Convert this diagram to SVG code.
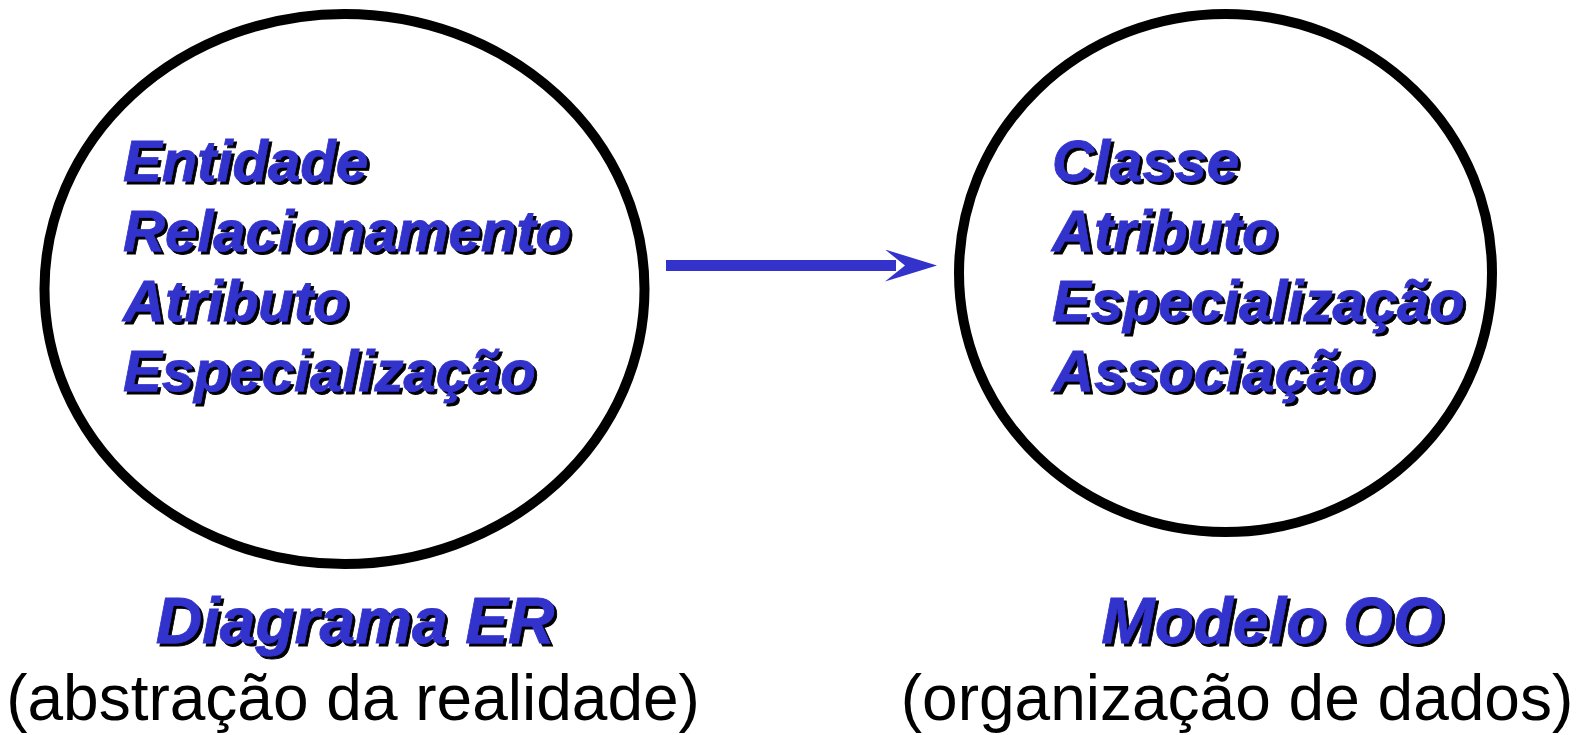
<svg xmlns="http://www.w3.org/2000/svg" width="1576" height="735" viewBox="0 0 1576 735">
<style>
.ring{fill:none;stroke:#000;stroke-width:10}
.item{font-family:"Liberation Sans",Arial,sans-serif;font-weight:bold;font-style:italic;font-size:58px;fill:#3333CC;stroke:#3333CC;stroke-width:0.8;filter:url(#sh)}
.title{font-family:"Liberation Sans",Arial,sans-serif;font-weight:bold;font-style:italic;font-size:64px;fill:#3333CC;stroke:#3333CC;stroke-width:0.8;filter:url(#sh);text-anchor:middle}
.sub{font-family:"Liberation Sans",Arial,sans-serif;font-size:64px;fill:#000;text-anchor:middle}
.conn{fill:none;stroke:#3333CC;stroke-width:11}
</style>
<defs>
<filter id="sh" x="-5%" y="-20%" width="115%" height="150%">
<feFlood flood-color="#000"/>
<feComposite in2="SourceAlpha" operator="in"/>
<feOffset dx="3" dy="3"/>
<feMerge><feMergeNode/><feMergeNode in="SourceGraphic"/></feMerge>
</filter>
<marker id="ah" markerUnits="userSpaceOnUse" markerWidth="53" markerHeight="33" refX="11" refY="16" orient="auto">
<path d="M0,0 L52,16 L0,32 L20,16 Z" fill="#3333CC"/>
</marker>
</defs>
<rect width="1576" height="735" fill="#fff"/>
<g id="er">
<ellipse class="ring" cx="344.5" cy="289" rx="300" ry="275"/>
<text class="item" x="123" y="181">Entidade</text>
<text class="item" x="123" y="251">Relacionamento</text>
<text class="item" x="123" y="321">Atributo</text>
<text class="item" x="123" y="391">Especialização</text>
<text class="title" x="355" y="643">Diagrama ER</text>
<text class="sub" x="353" y="720">(abstração da realidade)</text>
</g>
<g id="oo">
<ellipse class="ring" cx="1225.5" cy="273" rx="266.5" ry="259"/>
<text class="item" x="1052" y="181">Classe</text>
<text class="item" x="1052" y="251">Atributo</text>
<text class="item" x="1052" y="321">Especialização</text>
<text class="item" x="1052" y="391">Associação</text>
<text class="title" x="1272" y="643">Modelo OO</text>
<text class="sub" x="1237" y="720">(organização de dados)</text>
</g>
<g id="connectors">
<path class="conn" d="M666,265.5 L896,265.5" marker-end="url(#ah)"/>
</g>
</svg>
